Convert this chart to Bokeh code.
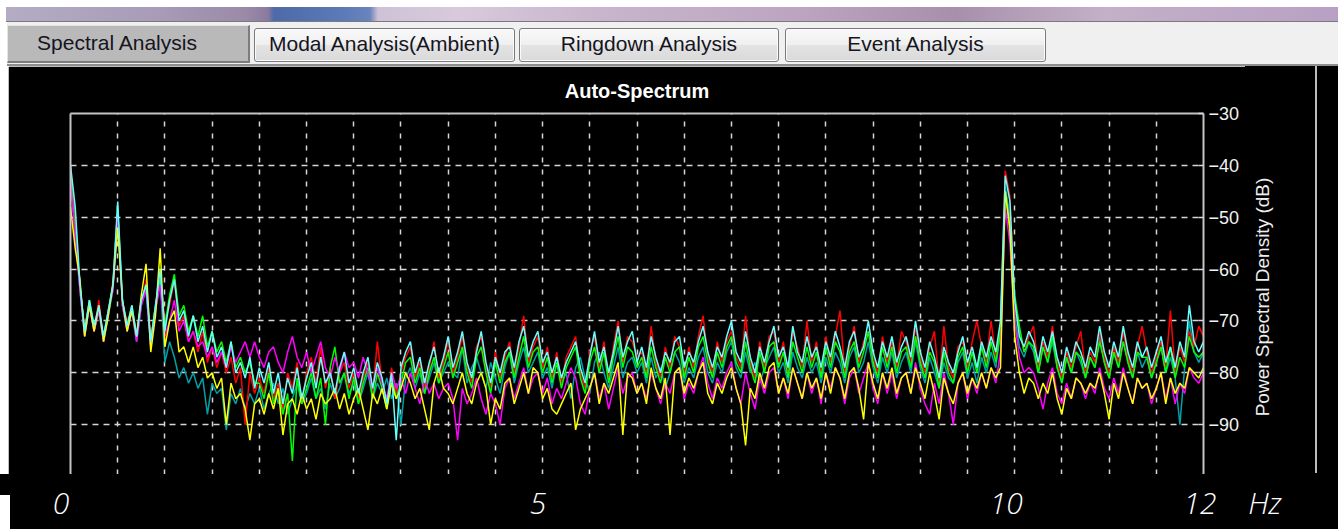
from bokeh.plotting import figure
from bokeh.models import Range1d, LinearAxis, FixedTicker, Div, Grid
from bokeh.layouts import column, row
from bokeh.embed import file_html
from bokeh.resources import INLINE

# ---------------- data ----------------
tab_names = ["Spectral Analysis", "Modal Analysis(Ambient)", "Ringdown Analysis", "Event Analysis"]
chart_title = "Auto-Spectrum"
y_axis_title = "Power Spectral Density (dB)"
x_unit = "Hz"
x_tick_values = [0, 5, 10, 12]
x_tick_labels = ["0", "5", "10", "12"]
y_tick_values = [-30, -40, -50, -60, -70, -80, -90]
x_grid_values = [k / 2 for k in range(25)]
y_grid_values = [-30, -40, -50, -60, -70, -80, -90, -100]

freq_hz = [round(i * 0.05, 2) for i in range(241)]

psd_cyan_db = [
    -40, -48, -63, -72, -66, -71, -67, -73, -68, -63, -47, -66, -71, -67, -73, -66, -63, -74, -67, -60,
    -72, -66, -62, -70, -68, -73, -69, -74, -71, -76, -72, -77, -75, -79, -74, -80, -78, -81, -77, -83,
    -79, -82, -78, -84, -80, -86, -81, -84, -79, -85, -81, -78, -83, -77, -82, -80, -84, -79, -76, -82,
    -79, -84, -80, -77, -83, -78, -81, -86, -80, -93, -79, -76, -74, -80, -77, -82, -78, -75, -80, -77,
    -73, -79, -76, -72, -78, -81, -76, -72, -78, -82, -77, -80, -76, -75, -79, -74, -71, -77, -74, -72,
    -78, -76, -80, -77, -81, -78, -76, -74, -79, -82, -77, -72, -78, -75, -80, -76, -71, -77, -74, -72,
    -78, -75, -79, -73, -77, -80, -76, -78, -74, -73, -79, -76, -78, -74, -71, -76, -79, -75, -77, -73,
    -70, -76, -78, -72, -77, -80, -75, -78, -74, -71, -77, -75, -79, -71, -76, -78, -73, -77, -75, -79,
    -74, -77, -72, -75, -79, -74, -72, -77, -75, -70, -76, -79, -74, -77, -73, -78, -75, -73, -77, -70,
    -76, -79, -74, -77, -81, -75, -78, -80, -76, -73, -78, -75, -79, -74, -77, -73, -76, -70, -42, -47,
    -66, -73, -75, -72, -74, -78, -73, -76, -72, -77, -80, -75, -78, -74, -76, -79, -75, -77, -71, -76,
    -79, -74, -77, -71, -76, -79, -74, -77, -75, -79, -76, -73, -78, -75, -79, -74, -77, -67, -74, -76,
    -74,
]

psd_teal_db = [
    -41, -50, -64, -73, -67, -72, -68, -74, -69, -64, -48, -67, -72, -68, -74, -67, -64, -75, -68, -62,
    -78, -74, -77, -81, -79, -82, -80, -83, -81, -88, -82, -84, -83, -91, -84, -86, -83, -87, -84, -86,
    -83, -87, -84, -82, -86, -83, -88, -85, -82, -86, -84, -81, -85, -83, -87, -82, -85, -83, -80, -84,
    -82, -86, -83, -80, -85, -82, -84, -81, -85, -82, -90, -81, -79, -83, -80, -84, -81, -78, -82, -80,
    -78, -80, -81, -75, -82, -79, -77, -80, -83, -78, -81, -84, -79, -76, -82, -78, -75, -80, -78, -76,
    -81, -79, -83, -78, -82, -80, -85, -79, -77, -81, -84, -78, -76, -80, -83, -79, -75, -81, -78, -77,
    -80, -78, -82, -77, -81, -79, -83, -80, -76, -78, -82, -79, -81, -77, -75, -80, -82, -78, -80, -76,
    -74, -79, -81, -76, -80, -78, -82, -79, -77, -75, -80, -78, -82, -76, -79, -81, -77, -80, -78, -82,
    -77, -80, -76, -78, -82, -77, -75, -80, -78, -74, -79, -82, -77, -80, -76, -81, -78, -76, -80, -74,
    -79, -82, -77, -80, -83, -78, -81, -82, -78, -76, -81, -78, -82, -77, -80, -76, -79, -72, -44, -50,
    -69, -75, -77, -74, -76, -80, -75, -78, -74, -79, -82, -77, -80, -76, -78, -81, -77, -79, -73, -78,
    -81, -76, -79, -74, -78, -81, -76, -79, -77, -81, -78, -75, -80, -77, -81, -90, -79, -70, -76, -78,
    -76,
]

psd_red_db = [
    -41, -52, -64, -71, -67, -72, -66, -74, -69, -62, -49, -67, -70, -68, -72, -67, -62, -73, -68, -61,
    -70, -67, -62, -71, -69, -74, -72, -76, -72, -78, -75, -79, -76, -80, -77, -82, -79, -90, -80, -84,
    -81, -84, -79, -85, -82, -87, -80, -83, -78, -86, -80, -77, -82, -75, -83, -79, -85, -80, -78, -83,
    -80, -85, -81, -78, -84, -74, -82, -86, -79, -84, -80, -77, -75, -81, -78, -83, -79, -74, -81, -78,
    -74, -80, -77, -73, -79, -82, -75, -73, -79, -83, -76, -81, -77, -74, -80, -75, -69, -78, -75, -73,
    -79, -75, -81, -76, -82, -77, -75, -73, -80, -83, -76, -73, -79, -74, -81, -75, -70, -78, -73, -74,
    -77, -76, -80, -71, -78, -81, -75, -79, -73, -75, -80, -75, -79, -73, -69, -77, -80, -74, -78, -74,
    -72, -77, -79, -69, -78, -81, -74, -79, -73, -72, -78, -74, -80, -72, -75, -79, -70, -78, -74, -80,
    -73, -78, -73, -68, -80, -75, -71, -78, -74, -72, -77, -80, -73, -78, -74, -79, -72, -74, -78, -71,
    -77, -80, -75, -72, -82, -71, -79, -81, -75, -74, -79, -74, -70, -75, -78, -70, -77, -71, -41, -46,
    -67, -72, -76, -73, -71, -79, -74, -77, -71, -78, -81, -76, -79, -75, -72, -80, -76, -78, -72, -77,
    -80, -75, -78, -72, -77, -80, -75, -71, -76, -80, -77, -74, -79, -68, -80, -75, -78, -72, -75, -71,
    -73,
]

psd_green_db = [
    -42, -53, -63, -72, -66, -71, -68, -73, -68, -63, -49, -66, -71, -67, -73, -66, -63, -74, -67, -62,
    -71, -65, -61, -69, -67, -72, -69, -73, -69, -75, -72, -76, -74, -78, -74, -79, -77, -80, -78, -82,
    -82, -85, -80, -86, -83, -88, -84, -97, -81, -86, -83, -80, -85, -81, -90, -79, -75, -82, -80, -85,
    -81, -86, -82, -79, -85, -80, -83, -87, -81, -85, -82, -78, -77, -82, -79, -84, -80, -77, -82, -79,
    -76, -81, -78, -75, -80, -83, -77, -75, -80, -84, -78, -82, -78, -76, -81, -77, -73, -79, -76, -75,
    -80, -77, -82, -78, -83, -79, -77, -75, -81, -84, -78, -75, -80, -76, -82, -77, -73, -79, -75, -76,
    -79, -77, -81, -75, -79, -82, -77, -80, -76, -75, -81, -77, -80, -75, -73, -78, -81, -76, -79, -75,
    -73, -78, -80, -74, -79, -82, -76, -80, -75, -74, -79, -76, -81, -74, -77, -80, -75, -79, -76, -81,
    -75, -79, -74, -76, -81, -76, -74, -79, -76, -72, -78, -81, -75, -79, -75, -80, -76, -75, -79, -73,
    -78, -81, -76, -78, -83, -76, -80, -82, -77, -75, -80, -76, -80, -75, -79, -74, -78, -72, -45, -53,
    -65, -71, -76, -74, -75, -80, -75, -78, -73, -79, -82, -77, -80, -76, -77, -81, -77, -79, -74, -78,
    -81, -76, -79, -74, -78, -81, -76, -77, -77, -81, -78, -75, -80, -75, -81, -77, -79, -73, -76, -77,
    -76,
]

psd_magenta_db = [
    -43, -54, -64, -73, -67, -72, -68, -74, -68, -64, -50, -67, -72, -68, -74, -67, -64, -75, -68, -63,
    -73, -70, -66, -72, -70, -74, -72, -75, -74, -77, -75, -78, -76, -79, -75, -78, -76, -74, -77, -74,
    -77, -79, -76, -75, -78, -80, -76, -73, -77, -79, -76, -80, -77, -74, -79, -81, -77, -80, -76, -79,
    -78, -81, -77, -80, -83, -79, -82, -85, -80, -83, -81, -84, -80, -83, -86, -81, -84, -82, -85, -83,
    -82, -85, -93, -83, -86, -84, -81, -85, -88, -84, -86, -90, -83, -81, -85, -82, -79, -84, -81, -80,
    -84, -81, -86, -83, -85, -82, -79, -81, -86, -88, -83, -80, -85, -82, -87, -83, -79, -84, -81, -80,
    -84, -82, -85, -80, -83, -86, -82, -84, -80, -79, -85, -82, -84, -80, -77, -82, -85, -81, -83, -80,
    -78, -83, -86, -80, -84, -87, -81, -84, -80, -79, -84, -81, -85, -79, -82, -85, -80, -84, -81, -86,
    -80, -83, -79, -81, -86, -81, -79, -84, -81, -78, -83, -86, -80, -84, -80, -85, -81, -80, -84, -78,
    -83, -86, -88, -82, -86, -80, -84, -90, -82, -80, -85, -81, -84, -80, -83, -79, -82, -76, -48, -55,
    -70, -77, -80, -79, -80, -83, -87, -82, -79, -84, -86, -82, -85, -81, -82, -85, -82, -84, -79, -83,
    -85, -81, -84, -79, -83, -86, -81, -83, -82, -86, -83, -80, -85, -81, -86, -82, -84, -79, -81, -82,
    -80,
]

psd_yellow_db = [
    -48, -56, -62, -73, -67, -72, -67, -74, -69, -63, -52, -66, -72, -68, -73, -65, -59, -76, -69, -56,
    -75, -70, -68, -76, -75, -78, -75, -79, -77, -81, -80, -83, -81, -90, -82, -85, -84, -87, -93, -86,
    -85, -88, -84, -87, -83, -92, -86, -85, -88, -84, -87, -85, -89, -84, -86, -85, -83, -87, -84, -88,
    -85, -83, -87, -91, -84, -86, -83, -87, -82, -85, -83, -80, -82, -85, -83, -87, -91, -82, -79, -83,
    -84, -86, -83, -80, -84, -86, -82, -80, -83, -90, -85, -87, -82, -81, -86, -83, -80, -84, -79, -80,
    -85, -83, -87, -88, -86, -84, -82, -91, -87, -85, -83, -80, -86, -82, -84, -81, -78, -92, -80, -81,
    -84, -82, -86, -79, -83, -85, -81, -92, -80, -79, -84, -81, -83, -80, -78, -84, -86, -82, -84, -81,
    -79, -83, -86, -94, -83, -85, -80, -83, -79, -78, -84, -81, -84, -79, -82, -85, -80, -83, -81, -85,
    -80, -84, -79, -81, -85, -80, -79, -83, -89, -78, -82, -85, -80, -83, -79, -84, -81, -80, -84, -79,
    -82, -85, -80, -84, -89, -81, -84, -86, -82, -80, -84, -81, -83, -80, -83, -79, -81, -79, -45, -52,
    -73, -80, -84, -81, -82, -85, -82, -84, -80, -85, -88, -83, -85, -81, -82, -84, -82, -83, -80, -84,
    -89, -82, -85, -80, -83, -86, -81, -83, -82, -85, -83, -80, -86, -81, -84, -82, -83, -79, -80, -81,
    -79,
]

series = [
    (psd_teal_db, "#00a2a8"),
    (psd_red_db, "#ff0000"),
    (psd_green_db, "#00ff00"),
    (psd_magenta_db, "#ff00ff"),
    (psd_yellow_db, "#ffff00"),
    (psd_cyan_db, "#66ffff"),
]
for ys, _c in series:
    assert len(ys) == len(freq_hz), (_c, len(ys))

# ---------------- geometry (page pixels; Bokeh page has no body margin) ----------------
PAGE_W, PAGE_H = 1338, 529
TABS_H = 66            # tab strip: y 0..66
FIG_LEFT = 8           # white margin left of the chart
FRAME_L, FRAME_R = 70, 1203
FRAME_T, FRAME_B = 113, 474
FIG_RIGHT = 1245       # chart canvas ends after the tick labels
RULE_X = 1315          # vertical rule at the right
FIG_W = FIG_RIGHT - FIG_LEFT
FIG_H = FRAME_B - TABS_H
BAND_H = PAGE_H - FRAME_B
X0, X1 = 0, 12
PX_PER_DB = 363 / 70.0
Y_TOP = -30
Y_BOT = Y_TOP - (FRAME_B - FRAME_T) / PX_PER_DB

# ---------------- tab bar (HTML) ----------------
FONT = "'Liberation Sans', Arial, sans-serif"
tab_boxes = [(7, 25, 243, 38), (254, 28, 261, 34), (519, 28, 260, 34), (785, 28, 261, 34)]
tab_text_pad = [(2, 24), (0, 0), (0, 0), (0, 0)]   # (left, right) padding nudging the caption
parts = [
    f'<div style="position:relative;width:{PAGE_W}px;height:{TABS_H}px;background:#ffffff;overflow:hidden;'
    f'font-family:{FONT};">',
    f'<div style="position:absolute;left:7px;top:22px;width:{PAGE_W - 7}px;height:42px;background:#f0f0f0;"></div>',
    f'<div style="position:absolute;left:6px;top:7px;width:{PAGE_W - 6}px;height:14px;'
    'background:linear-gradient(to right,#b4acc4 0px,#a89cb8 150px,#9a8aa8 240px,#8a7aa0 262px,'
    '#4e6aa8 268px,#5a7ab8 336px,#6a84bc 364px,#cfc2d6 372px,#d8cadc 450px,#c8b4cc 600px,'
    '#bca4c0 800px,#a890ac 950px,#c4b0c8 1100px,#b8a0c4 1332px);"></div>',
    f'<div style="position:absolute;left:6px;top:21px;width:{PAGE_W - 6}px;height:1px;background:#7a7a7a;"></div>',
]
for idx, (name, (lx, ty, w, h), (pl, pr)) in enumerate(zip(tab_names, tab_boxes, tab_text_pad)):
    if idx == 0:
        style = ("background:#b9b9b9;border-top:1px solid #e4e4e4;border-left:1px solid #e4e4e4;"
                 "border-right:2px solid #7c7c7c;border-bottom:2px solid #7c7c7c;padding-bottom:1px;")
    else:
        style = ("background:linear-gradient(to bottom,#f9f9f9 0%,#efefef 50%,#e3e3e3 51%,#dadada 100%);"
                 "border:1px solid #7a7a7a;border-radius:3px;box-shadow:inset 0 0 0 1px #fbfbfb;"
                 "padding-bottom:3px;")
    parts.append(
        f'<div style="position:absolute;left:{lx}px;top:{ty}px;width:{w}px;height:{h}px;box-sizing:border-box;'
        f'{style}padding-left:{pl}px;padding-right:{pr}px;display:flex;align-items:center;'
        f'justify-content:center;font-size:21px;color:#15151f;white-space:nowrap;">{name}</div>'
    )
parts.append(f'<div style="position:absolute;left:7px;top:64px;width:{PAGE_W - 7}px;height:2px;background:#8e8e8e;"></div>')
parts.append('</div>')
tabs_div = Div(text="".join(parts), width=PAGE_W, height=TABS_H, margin=0)

left_pad = Div(text=f'<div style="width:{FIG_LEFT}px;height:{FIG_H}px;background:#ffffff;"></div>',
               width=FIG_LEFT, height=FIG_H, margin=0)

# y-axis title strip (reads bottom-to-top), between the tick labels and the vertical rule
title_w = RULE_X - FIG_RIGHT
title_cx, title_cy = 1263 - FIG_RIGHT, 297 - TABS_H
ytitle_div = Div(
    text=f'<div style="position:relative;width:{title_w}px;height:{FIG_H}px;background:#000;overflow:hidden;">'
         f'<div style="position:absolute;left:{title_cx - 150}px;top:{title_cy - 11}px;width:300px;height:22px;'
         f'line-height:22px;text-align:center;white-space:nowrap;transform:rotate(-90deg);'
         f'font-family:{FONT};font-size:19px;color:#eeeeee;">{y_axis_title}</div></div>',
    width=title_w, height=FIG_H, margin=0, styles={"background-color": "black"},
)

side_w = PAGE_W - RULE_X
side_div = Div(
    text=f'<div style="position:relative;width:{side_w}px;height:{FIG_H}px;background:#000;">'
         f'<div style="position:absolute;left:0;top:0;width:2px;height:{FIG_H - 1}px;background:#bdbdbd;"></div></div>',
    width=side_w, height=FIG_H, margin=0, styles={"background-color": "black"},
)

# ---------------- bottom band with the frequency labels ----------------
px_per_hz = (FRAME_R - FRAME_L) / (X1 - X0)
x_label_nudge = [-9, -4, -8, -3]
band = [f'<div style="position:relative;width:{PAGE_W}px;height:{BAND_H}px;background:#000;overflow:hidden;'
        "font-family:'Open Sans',sans-serif;font-style:italic;font-weight:300;font-size:30px;color:#ffffff;\">",
        f'<div style="position:absolute;left:0;top:21px;width:10px;height:{BAND_H - 21}px;background:#fff;"></div>']
label_items = [(FRAME_L + (v - X0) * px_per_hz + n, t) for v, t, n in zip(x_tick_values, x_tick_labels, x_label_nudge)]
label_items.append((FRAME_R + 62, x_unit))
for cx, t in label_items:
    band.append(f'<div style="position:absolute;left:{cx - 40:.1f}px;top:14px;width:80px;line-height:30px;'
                f'text-align:center;white-space:nowrap;">{t}</div>')
band.append('</div>')
band_div = Div(text="".join(band), width=PAGE_W, height=BAND_H, margin=0)

# ---------------- chart ----------------
p = figure(
    width=FIG_W, height=FIG_H, output_backend="svg", toolbar_location=None,
    x_range=Range1d(X0, X1), y_range=Range1d(Y_BOT, Y_TOP),
    x_axis_location=None, y_axis_location=None,
    min_border_left=FRAME_L - FIG_LEFT, min_border_right=FIG_RIGHT - FRAME_R,
    min_border_top=FRAME_T - TABS_H, min_border_bottom=0,
    background_fill_color="black", border_fill_color="black", outline_line_color=None,
    title=chart_title,
)
p.title.text_color = "#ffffff"
p.title.text_font = "Liberation Sans"
p.title.text_font_size = "20px"
p.title.text_font_style = "bold"
p.title.align = "center"
p.title.standoff = 23
p.grid.visible = False

p.add_layout(Grid(dimension=0, ticker=FixedTicker(ticks=x_grid_values), grid_line_color="#d6d6d6",
                  grid_line_width=1.5, grid_line_dash="5 7"))
p.add_layout(Grid(dimension=1, ticker=FixedTicker(ticks=y_grid_values), grid_line_color="#d6d6d6",
                  grid_line_width=1.5, grid_line_dash="6 5"))

frame_kw = dict(axis_line_color="#c4c4c4", axis_line_width=2, major_tick_out=0,
                major_tick_line_color="#d6d6d6", major_tick_line_width=1.5, minor_tick_line_color=None)
p.add_layout(LinearAxis(ticker=FixedTicker(ticks=[]), major_tick_in=0, **frame_kw), "above")
p.add_layout(LinearAxis(ticker=FixedTicker(ticks=[]), major_tick_in=0, **frame_kw), "left")
right_ax = LinearAxis(ticker=FixedTicker(ticks=y_tick_values), major_tick_in=5,
                      major_label_text_color="#f2f2f2", major_label_text_font="Liberation Sans",
                      major_label_text_font_size="18px", major_label_standoff=5, **frame_kw)
p.add_layout(right_ax, "right")

for ys, c in series:
    p.line(freq_hz, ys, line_color=c, line_width=1.5)

layout = column(tabs_div, row(left_pad, p, ytitle_div, side_div), band_div)
open("out.html", "w").write(file_html(layout, INLINE, title=chart_title))
